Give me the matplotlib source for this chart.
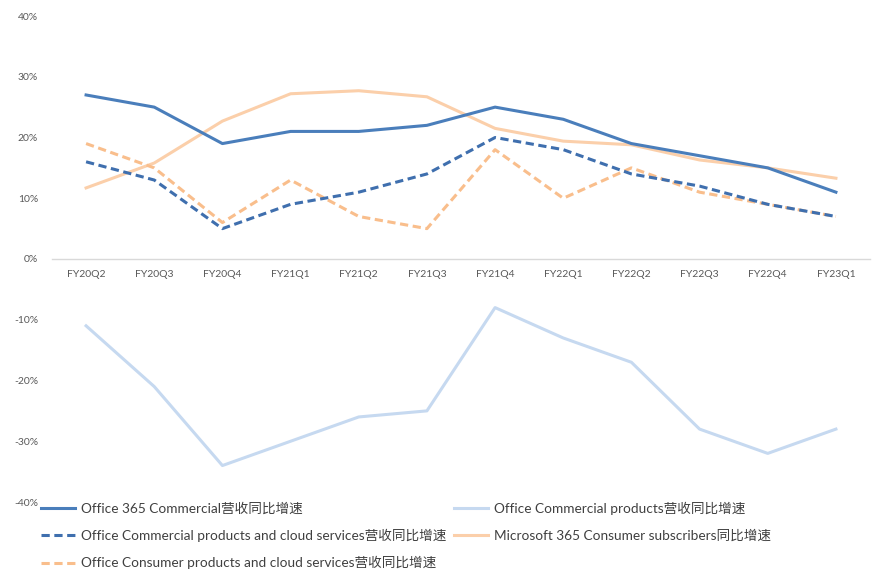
import matplotlib
matplotlib.use("Agg")
import matplotlib.pyplot as plt
from matplotlib.lines import Line2D
from matplotlib.ticker import FuncFormatter, MultipleLocator

plt.rcParams['font.family'] = ['Lato', 'Noto Sans CJK SC', 'DejaVu Sans']

quarters = ["FY20Q2", "FY20Q3", "FY20Q4", "FY21Q1", "FY21Q2", "FY21Q3",
            "FY21Q4", "FY22Q1", "FY22Q2", "FY22Q3", "FY22Q4", "FY23Q1"]
o365_commercial = [27, 25, 19, 21, 21, 22, 25, 23, 19, 17, 15, 11]
office_commercial_products = [-11, -21, -34, -30, -26, -25, -8, -13, -17, -28, -32, -28]
office_commercial_cloud = [16, 13, 5, 9, 11, 14, 20, 18, 14, 12, 9, 7]
m365_consumer_subs = [11.7, 15.8, 22.7, 27.2, 27.7, 26.7, 21.5, 19.4, 18.8, 16.3, 15.0, 13.3]
office_consumer_cloud = [19, 15, 6, 13, 7, 5, 18, 10, 15, 11, 9, 7]

labels = ["Office 365 Commercial营收同比增速",
          "Office Commercial products营收同比增速",
          "Office Commercial products and cloud services营收同比增速",
          "Microsoft 365 Consumer subscribers同比增速",
          "Office Consumer products and cloud services营收同比增速"]

c_blue = "#4A7EBB"
c_blue_d = "#3F6FAE"
c_lblue = "#C6D9F0"
c_lorange = "#FBCFAA"
c_orange = "#F9BE8C"

fig = plt.figure(figsize=(8.79, 5.79), dpi=100)
ax = fig.add_axes([52/879, 1-502/579, (870-52)/879, (502-16)/579])

x = list(range(len(quarters)))
lw = 2.2
dash = (2.7, 1.5)
ax.plot(x, o365_commercial, color=c_blue, lw=lw, zorder=3)
ax.plot(x, office_commercial_products, color=c_lblue, lw=lw, zorder=2)
ax.plot(x, office_commercial_cloud, color=c_blue_d, lw=lw, dashes=dash, zorder=2.6)
ax.plot(x, m365_consumer_subs, color=c_lorange, lw=lw, zorder=2)
ax.plot(x, office_consumer_cloud, color=c_orange, lw=lw, dashes=dash, zorder=2.5)

ax.set_xlim(-0.5, len(quarters)-0.5)
ax.set_ylim(-40, 40)
ax.yaxis.set_major_locator(MultipleLocator(10))
ax.yaxis.set_major_formatter(FuncFormatter(lambda v, p: f"{int(round(v))}%"))
ax.set_xticks(x)
ax.set_xticklabels(quarters)
for s in ['top', 'right', 'left']:
    ax.spines[s].set_visible(False)
ax.spines['bottom'].set_position(('data', 0))
ax.spines['bottom'].set_color('#D9D9D9')
ax.spines['bottom'].set_linewidth(1.0)
ax.tick_params(axis='x', length=0, pad=8, labelsize=7.5, colors='#595959')
ax.tick_params(axis='y', length=0, pad=10, labelsize=7.5, colors='#595959')

leg_kw = dict(frameon=False, fontsize=9.8, handlelength=2.5, handletextpad=0.45,
              labelspacing=1.05, borderaxespad=0, borderpad=0, labelcolor='#404040')
h1 = [Line2D([], [], color=c_blue, lw=lw),
      Line2D([], [], color=c_blue_d, lw=lw, dashes=dash),
      Line2D([], [], color=c_orange, lw=lw, dashes=dash)]
h2 = [Line2D([], [], color=c_lblue, lw=lw),
      Line2D([], [], color=c_lorange, lw=lw)]
leg1 = fig.legend(h1, [labels[0], labels[2], labels[4]], loc='upper left',
                  bbox_to_anchor=(41/879, 1-502/579), **leg_kw)
leg2 = fig.legend(h2, [labels[1], labels[3]], loc='upper left',
                  bbox_to_anchor=(454/879, 1-502/579), **leg_kw)

fig.savefig("out.png", dpi=100)
